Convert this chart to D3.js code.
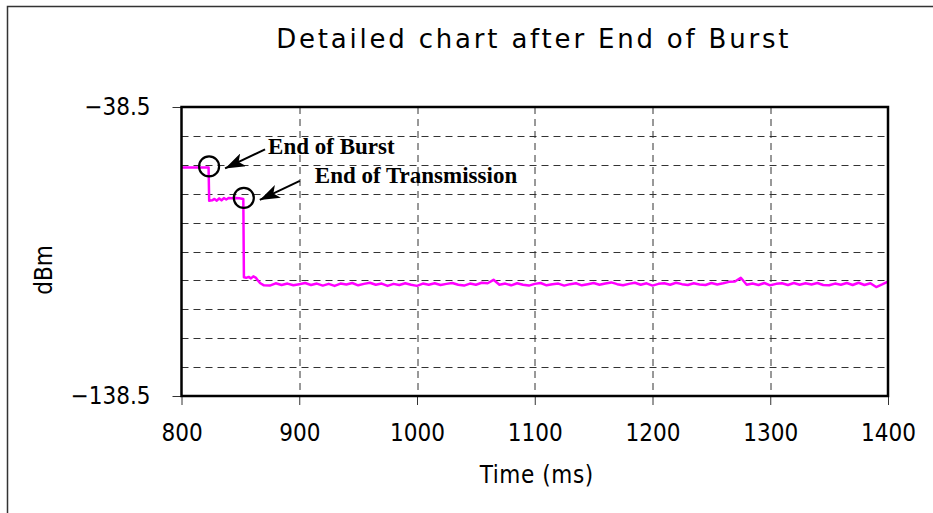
<!DOCTYPE html>
<html>
<head>
<meta charset="utf-8">
<script src="https://cdn.jsdelivr.net/npm/d3@7"></script>
<style>
  html, body { margin: 0; padding: 0; background: #fff; overflow: hidden; }
  #vis { width: 933px; height: 513px; }
  .sans { font-family: 'DejaVu Sans', sans-serif; font-stretch: condensed; }
</style>
</head>
<body>
<div id="vis"></div>
<script>
// data
const times = [
  800, 805, 810, 815, 820, 823,
  823.5, 826, 828, 830, 832, 834, 836, 838, 840, 843, 846, 849, 852.5,
  853, 855, 857, 859, 861, 863, 865, 867, 870,
  875, 880, 885, 890, 895, 900, 905, 910, 915, 920,
  925, 930, 935, 940, 945, 950, 955, 960, 965, 970,
  975, 980, 985, 990, 995, 1000, 1005, 1010, 1015, 1020,
  1025, 1030, 1035, 1040, 1045, 1050, 1055, 1060, 1065, 1070,
  1075, 1080, 1085, 1090, 1095, 1100, 1105, 1110, 1115, 1120,
  1125, 1130, 1135, 1140, 1145, 1150, 1155, 1160, 1165, 1170,
  1175, 1180, 1185, 1190, 1195, 1200, 1205, 1210, 1215, 1220,
  1225, 1230, 1235, 1240, 1245, 1250, 1255, 1260, 1265, 1270,
  1275, 1280, 1285, 1290, 1295, 1300, 1305, 1310, 1315, 1320,
  1325, 1330, 1335, 1340, 1345, 1350, 1355, 1360, 1365, 1370,
  1375, 1380, 1385, 1390, 1395, 1400
];
const dbm = [
  -59.4, -59.4, -59.4, -59.4, -59.4, -59.4,
  -70.9, -70.8, -70.3, -70.9, -70.1, -70.8, -70.0, -70.5, -70.0, -70.1, -70.0, -70.1, -70.3,
  -97.4, -97.6, -97.3, -97.8, -97.1, -97.5, -98.6, -99.5, -100.2,
  -100.3, -99.5, -100.1, -99.6, -100.2, -99.8, -99.4, -100.1, -99.6, -100.3,
  -99.7, -100.4, -99.6, -99.9, -99.4, -100.2, -99.7, -99.3, -100.0, -99.6,
  -100.4, -99.7, -100.1, -99.5, -100.0, -100.4, -99.6, -100.0, -99.5, -100.1,
  -99.7, -99.4, -100.0, -100.3, -99.6, -100.0, -99.3, -99.5, -98.3, -100.0,
  -99.6, -100.2, -99.5, -100.0, -100.3, -99.7, -99.4, -100.2, -99.8, -99.6,
  -100.3, -99.8, -99.5, -100.2, -99.8, -99.4, -100.0, -99.6, -99.2, -99.8,
  -100.2, -99.7, -99.3, -100.0, -99.5, -100.3, -99.7, -99.5, -100.0, -99.3,
  -99.8, -100.1, -99.5, -99.9, -100.1, -99.4, -99.9, -99.5, -99.0, -98.9,
  -97.6, -100.0, -99.6, -100.1, -99.4, -100.2, -99.7, -99.5, -100.1, -99.4,
  -100.0, -99.5, -99.9, -99.4, -100.1, -100.2, -99.6, -100.0, -99.4, -100.1,
  -99.3, -100.1, -99.5, -100.8, -99.9, -98.9
];
const xTicks = [800, 900, 1000, 1100, 1200, 1300, 1400];
const yTicks = [-38.5, -138.5];
const yGrid = [-48.5, -58.5, -68.5, -78.5, -88.5, -98.5, -108.5, -118.5, -128.5];
const noteLabels = ["End of Burst", "End of Transmission"];
const noteTimes = [823, 852.5];
const noteValues = [-59.4, -70.3];

const W = 933, H = 513;
const margin = { top: 107, right: 45, bottom: 117, left: 181.5 };
const width = W - margin.left - margin.right;
const height = H - margin.top - margin.bottom;

const svg = d3.select("#vis").append("svg")
  .attr("width", W)
  .attr("height", H);

// outer chart frame (runs off the right and bottom)
svg.append("rect")
  .attr("x", 7.5).attr("y", 6.5)
  .attr("width", 1000).attr("height", 1000)
  .attr("fill", "none")
  .attr("stroke", "#333")
  .attr("stroke-width", 1.5);

svg.append("text")
  .attr("x", margin.left + width / 2 - 1)
  .attr("y", 48)
  .attr("text-anchor", "middle")
  .style("font-family", "'DejaVu Sans', sans-serif")
  .style("font-size", "26px")
  .style("letter-spacing", "2.8px")
  .text("Detailed chart after End of Burst");

const g = svg.append("g")
  .attr("transform", `translate(${margin.left},${margin.top})`);

const x = d3.scaleLinear().domain([800, 1400]).range([0, width]);
const y = d3.scaleLinear().domain([-138.5, -38.5]).range([height, 0]);

// gridlines
g.append("g").selectAll("line")
  .data(yGrid)
  .join("line")
  .attr("x1", 0).attr("x2", width)
  .attr("y1", d => Math.round(y(d)) + 0.5).attr("y2", d => Math.round(y(d)) + 0.5)
  .attr("stroke", "#333")
  .attr("stroke-dasharray", "7,5");

g.append("g").selectAll("line")
  .data(xTicks.slice(1, -1))
  .join("line")
  .attr("x1", d => Math.round(x(d)) + 0.5).attr("x2", d => Math.round(x(d)) + 0.5)
  .attr("y1", 0).attr("y2", height)
  .attr("stroke", "#333")
  .attr("stroke-dasharray", "7,5");

// axes
const xAxis = g.append("g")
  .attr("transform", `translate(0,${height})`)
  .call(d3.axisBottom(x).tickValues(xTicks).tickSize(9).tickPadding(19).tickSizeOuter(0)
    .tickFormat(d3.format("d")));
const yAxis = g.append("g")
  .call(d3.axisLeft(y).tickValues(yTicks).tickSize(9).tickPadding(22).tickSizeOuter(0)
    .tickFormat(d3.format(".1f")));

[xAxis, yAxis].forEach(a => {
  a.select(".domain").remove();
  a.selectAll("text")
    .attr("class", "sans")
    .style("font-size", "24px")
    .attr("fill", "#000");
  a.selectAll("line").attr("stroke", "#333");
});

// series
const series = times.map((t, i) => ({ t: t, v: dbm[i] }));
g.append("path")
  .datum(series)
  .attr("fill", "none")
  .attr("stroke", "#ff00ff")
  .attr("stroke-width", 2.5)
  .attr("stroke-linejoin", "round")
  .attr("d", d3.line().x(d => x(d.t)).y(d => y(d.v)));

// plot frame
g.append("rect")
  .attr("x", 0).attr("y", 0)
  .attr("width", width).attr("height", height)
  .attr("fill", "none")
  .attr("stroke", "#000")
  .attr("stroke-width", 2.5);

// annotations: circle on the point, arrow from the label towards it
svg.append("defs").append("marker")
  .attr("id", "arrow")
  .attr("viewBox", "0 0 20 14")
  .attr("refX", 0).attr("refY", 7)
  .attr("markerUnits", "userSpaceOnUse")
  .attr("markerWidth", 20).attr("markerHeight", 14)
  .attr("orient", "auto")
  .append("path")
  .attr("d", "M0,7 L20,0 L15,7 L20,14 Z")
  .attr("fill", "#000");

const noteOffsets = [{ lx: 59, ly: -12 }, { lx: 71, ly: -15 }];
noteLabels.forEach((label, i) => {
  const cx = x(noteTimes[i]) + 0.5, cy = y(noteValues[i]) - 1;
  const note = g.append("g");
  note.append("circle")
    .attr("cx", cx).attr("cy", cy).attr("r", 10)
    .attr("fill", "none")
    .attr("stroke", "#000")
    .attr("stroke-width", 2.2);
  note.append("line")
    .attr("x1", cx + 16).attr("y1", cy + 2)
    .attr("x2", cx + 56).attr("y2", cy - 17)
    .attr("stroke", "#000")
    .attr("stroke-width", 2)
    .attr("marker-start", "url(#arrow)");
  note.append("text")
    .attr("x", cx + noteOffsets[i].lx)
    .attr("y", cy + noteOffsets[i].ly)
    .style("font-family", "'Liberation Serif', 'Times New Roman', serif")
    .style("font-weight", "bold")
    .style("font-size", "23px")
    .text(label);
});

// axis titles
svg.append("text")
  .attr("class", "sans")
  .attr("x", margin.left + width / 2 + 2)
  .attr("y", 483)
  .attr("text-anchor", "middle")
  .style("font-size", "24px")
  .style("letter-spacing", "0.6px")
  .text("Time (ms)");

svg.append("text")
  .attr("class", "sans")
  .attr("transform", "translate(52,270) rotate(-90)")
  .attr("text-anchor", "middle")
  .style("font-size", "24px")
  .text("dBm");
</script>
</body>
</html>
